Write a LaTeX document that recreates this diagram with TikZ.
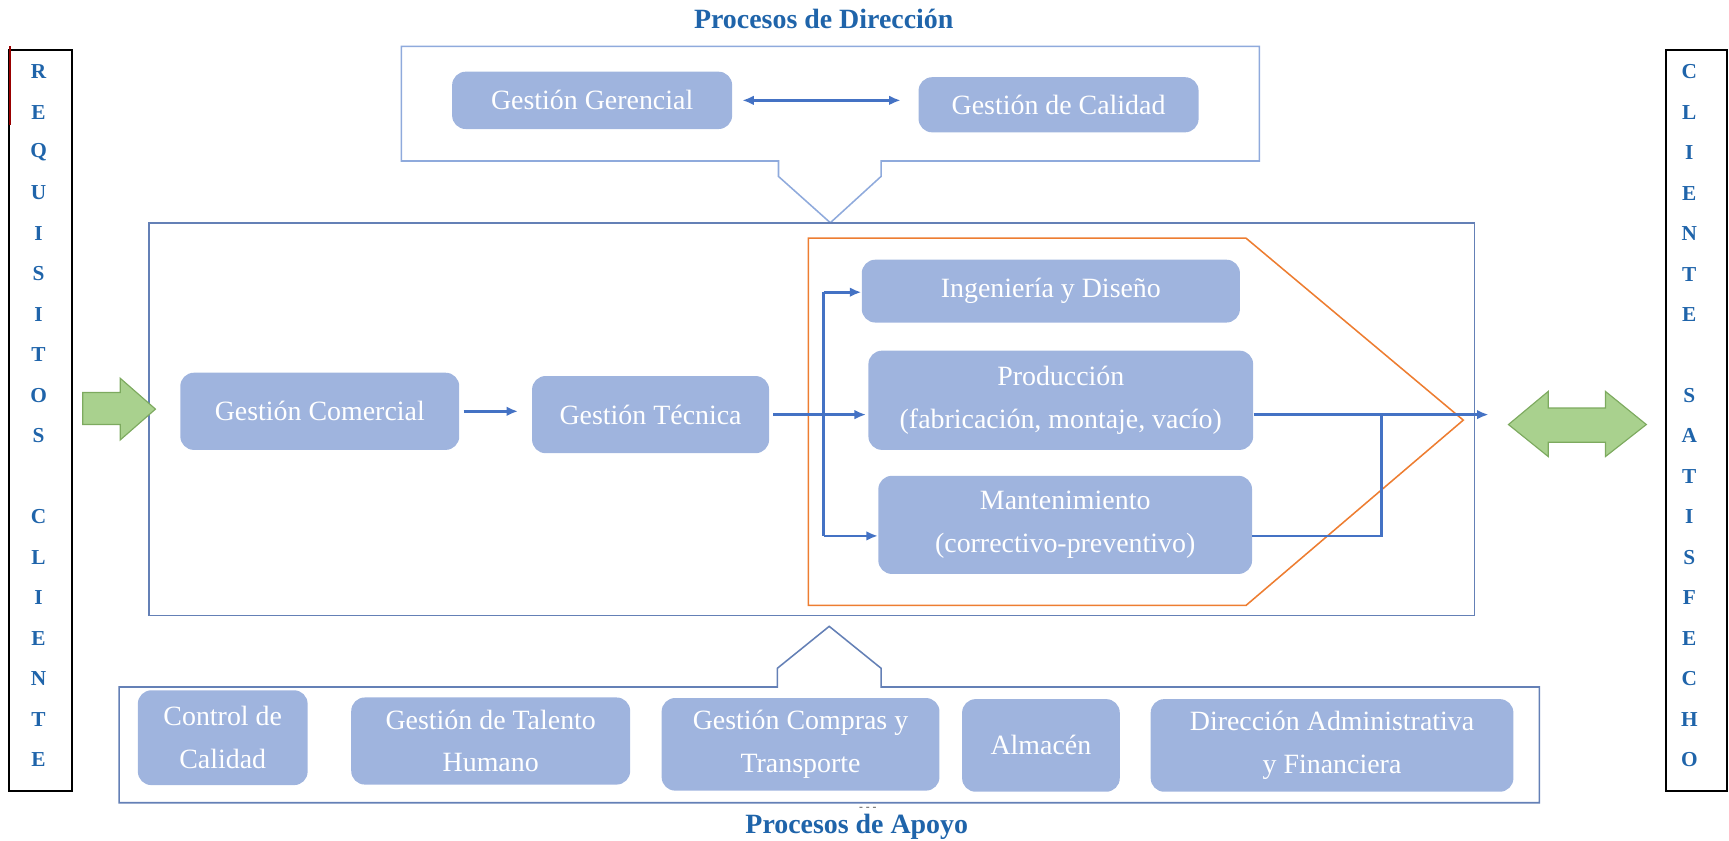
\documentclass[tikz,border=0pt]{standalone}
\usepackage{fontspec}
\setmainfont{Liberation Serif}
\usetikzlibrary{arrows.meta}

\definecolor{cCaja}{RGB}{159,180,222}
\definecolor{cTitulo}{RGB}{31,100,170}
\definecolor{cFlecha}{RGB}{68,114,196}
\definecolor{cMarco}{RGB}{100,128,182}
\definecolor{cMarcoClaro}{RGB}{143,170,220}
\definecolor{cNaranja}{RGB}{237,125,49}
\definecolor{cVerde}{RGB}{169,209,142}
\definecolor{cVerdeBorde}{RGB}{125,170,95}

\tikzset{
  proc/.style={rectangle, rounded corners=7pt, fill=cCaja, text=white, inner sep=0pt,
    align=center, font=\fontsize{14.4}{22}\selectfont},
  letra/.style={text=cTitulo, font=\fontsize{11}{13}\selectfont\bfseries},
  titulo/.style={text=cTitulo, inner sep=0pt, font=\fontsize{14.4}{17}\selectfont\bfseries},
  flujo/.style={draw=cFlecha, line width=1.4pt, ->},
  marco/.style={draw=cMarco, line width=0.8pt},
  bloque/.style={fill=cVerde, draw=cVerdeBorde, line width=0.6pt},
}

\begin{document}
\begin{tikzpicture}[x=0.02cm, y=-0.02cm, >={Latex[length=6pt,width=5pt]}]
    \useasboundingbox (0,0) rectangle (1568,762);
    % titles
    \node[titulo] (tdir) at (747,17) {Procesos de Dirección};
    \node[titulo] (tapo) at (777,750) {Procesos de Apoyo};
    \node[inner sep=0pt, font=\fontsize{6}{7}\selectfont, text=black!70] (guion) at (787,734) {- - -};
    % left column
    \draw[line width=1pt] (8,45) rectangle (65,717);
    \draw[line width=1pt, red!60!black] (9,42) -- (9,113);
    \foreach \l [count=\i from 0] in {R,E,Q,U,I,S,I,T,O,S,{},C,L,I,E,N,T,E}
        \node[letra] (req\i) at (35,65+36.7*\i) {\l};
    % right column
    \draw[line width=1pt] (1511,45) rectangle (1566,717);
    \foreach \l [count=\i from 0] in {C,L,I,E,N,T,E,{},S,A,T,I,S,F,E,C,H,O}
        \node[letra] (cli\i) at (1532,65+36.7*\i) {\l};
    % direction processes
    \draw[draw=cMarcoClaro, line width=0.8pt] (364,42) -- (1142,42) -- (1142,146) -- (799,146)
        -- (799,160) -- (753,202) -- (706,160) -- (706,146) -- (364,146) -- cycle;
    \node[proc, minimum width=5.08cm, minimum height=1.04cm] (gerencial) at (537,91) {Gestión Gerencial};
    \node[proc, minimum width=5.08cm, minimum height=1cm] (calidad) at (960,95) {Gestión de Calidad};
    \draw[flujo, <->, shorten <=5pt, shorten >=9pt] (gerencial.east) -- (gerencial.east -| calidad.west);
    % main processes
    \draw[marco] (135,202) rectangle (1337,558);
    \draw[draw=cNaranja, line width=0.8pt] (733,216) -- (1130,216) -- (1327,381) -- (1130,549) -- (733,549) -- cycle;
    \node[proc, minimum width=5.06cm, minimum height=1.4cm] (comercial) at (290,373) {Gestión Comercial};
    \node[proc, minimum width=4.3cm, minimum height=1.4cm] (tecnica) at (590,376) {Gestión Técnica};
    \node[proc, minimum width=6.86cm, minimum height=1.14cm] (ingenieria) at (953,264) {Ingeniería y Diseño};
    \node[proc, minimum width=6.98cm, minimum height=1.8cm] (produccion) at (962,363) {Producción\\(fabricación, montaje, vacío)};
    \node[proc, minimum width=6.78cm, minimum height=1.78cm] (mantenimiento) at (966,476) {Mantenimiento\\(correctivo-preventivo)};
    % flow inside
    \draw[flujo, shorten <=2pt, shorten >=7pt] (comercial.east) -- (comercial.east -| tecnica.west);
    \draw[flujo, shorten <=2pt, shorten >=1pt] (tecnica.east) -- (tecnica.east -| produccion.west);
    \coordinate (ramaA) at (747,265);
    \coordinate (ramaB) at (747,486);
    \draw[flujo, -] (ramaA) -- (ramaB);
    \draw[flujo] (ramaA) -- (ramaA -| ingenieria.west);
    \draw[flujo] (ramaB) -- (ramaB -| mantenimiento.west);
    % outputs
    \coordinate (salida) at (1350,376);
    \coordinate (union) at (1253,376);
    \draw[flujo] (produccion.east |- salida) -- (salida);
    \draw[flujo, -] (mantenimiento.east |- ramaB) -| (union);
    % green arrows
    \draw[bloque] (75,356) -- (109,356) -- (109,343) -- (141,371) -- (109,399) -- (109,385) -- (75,385) -- cycle;
    \draw[bloque] (1368,385) -- (1404,355) -- (1404,370) -- (1456,370) -- (1456,355) -- (1493,385)
        -- (1456,414) -- (1456,401) -- (1404,401) -- (1404,414) -- cycle;
    % support processes
    \draw[marco] (108,623) -- (705,623) -- (705,606) -- (752,568) -- (799,606) -- (799,623)
        -- (1396,623) -- (1396,728) -- (108,728) -- cycle;
    \node[proc, minimum width=3.08cm, minimum height=1.72cm] (ctrlcal) at (202,669) {Control de\\Calidad};
    \node[proc, minimum width=5.06cm, minimum height=1.58cm] (talento) at (445,672) {Gestión de Talento\\Humano};
    \node[proc, minimum width=5.04cm, minimum height=1.68cm] (compras) at (726,675) {Gestión Compras y\\Transporte};
    \node[proc, minimum width=2.86cm, minimum height=1.68cm] (almacen) at (944,676) {Almacén};
    \node[proc, minimum width=6.58cm, minimum height=1.68cm] (direccion) at (1208,676) {Dirección Administrativa\\y Financiera};
\end{tikzpicture}
\end{document}
